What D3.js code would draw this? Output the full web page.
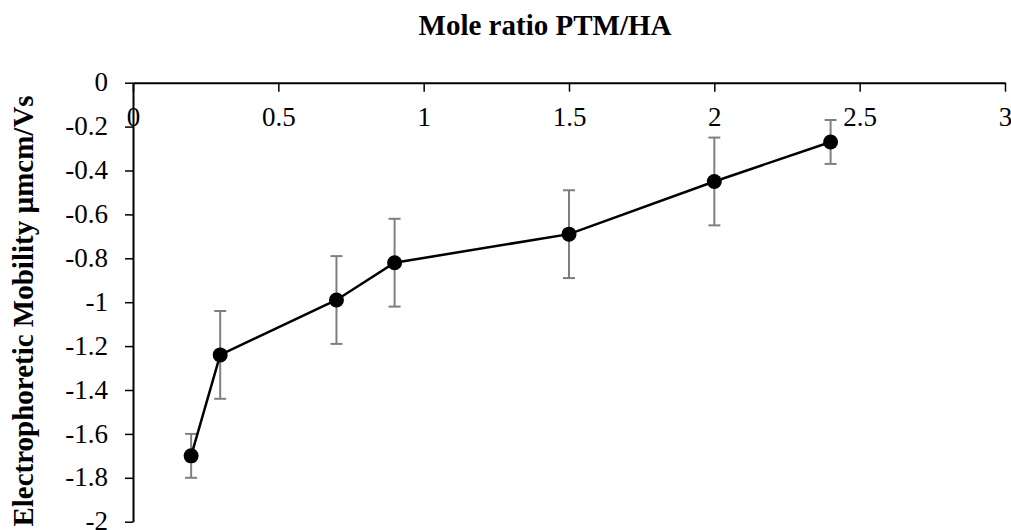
<!DOCTYPE html>
<html>
<head>
<meta charset="utf-8">
<script src="https://cdnjs.cloudflare.com/ajax/libs/d3/7.8.5/d3.min.js"></script>
<style>
  body { margin: 0; background: #fff; }
  #chart { width: 1011px; height: 530px; }
</style>
</head>
<body>
<div id="chart"></div>
<script>
// mole ratio PTM/HA vs electrophoretic mobility
var ratios = [0.2, 0.3, 0.7, 0.9, 1.5, 2.0, 2.4];
var mobility = [-1.70, -1.24, -0.99, -0.82, -0.69, -0.45, -0.27];
var errors = [0.10, 0.20, 0.20, 0.20, 0.20, 0.20, 0.10];
var xTicks = [0, 0.5, 1, 1.5, 2, 2.5, 3];
var yTicks = [0, -0.2, -0.4, -0.6, -0.8, -1, -1.2, -1.4, -1.6, -1.8, -2];

var width = 1011;
var height = 530;
var serif = "'Liberation Serif', 'Times New Roman', serif";

var svg = d3.select("#chart").append("svg")
  .attr("width", width)
  .attr("height", height)
  .attr("font-family", serif);

var x = d3.scaleLinear().domain([0, 3]).range([133, 1005]);
var y = d3.scaleLinear().domain([-2, 0]).range([521.7, 82.7]);

var points = ratios.map(function(r, i) {
  return {x: r, y: mobility[i], e: errors[i]};
});

// top x axis (ticks point down into the plot, labels below)
var xAxis = svg.append("g")
  .attr("transform", "translate(0," + y(0) + ")")
  .call(d3.axisBottom(x).tickValues(xTicks).tickSize(9).tickSizeOuter(0)
    .tickFormat(function(d) { return d; }));
xAxis.attr("font-family", serif);
xAxis.select(".domain").attr("stroke", "#000").attr("stroke-width", 2);
xAxis.selectAll(".tick line").attr("stroke", "#000").attr("stroke-width", 1.5);
xAxis.selectAll(".tick text")
  .attr("y", 0).attr("dy", "1.6em")
  .attr("font-size", 27).attr("fill", "#000");

// left y axis
var yAxis = svg.append("g")
  .attr("transform", "translate(" + x(0) + ",0)")
  .call(d3.axisLeft(y).tickValues(yTicks).tickSize(8).tickSizeOuter(0)
    .tickFormat(function(d) { return d === 0 ? "0" : String(d); }));
yAxis.attr("font-family", serif);
yAxis.select(".domain").attr("stroke", "#000").attr("stroke-width", 2);
yAxis.selectAll(".tick line").attr("stroke", "#000").attr("stroke-width", 1.5);
yAxis.selectAll(".tick text")
  .attr("x", -25).attr("dy", "0.3em")
  .attr("font-size", 27).attr("fill", "#000");

// error bars
var bars = svg.append("g").attr("stroke", "#7f7f7f").attr("stroke-width", 2);
bars.selectAll(".ev")
  .data(points).enter().append("line")
  .attr("x1", function(d) { return x(d.x); })
  .attr("x2", function(d) { return x(d.x); })
  .attr("y1", function(d) { return y(d.y - d.e); })
  .attr("y2", function(d) { return y(d.y + d.e); });
[-1, 1].forEach(function(s) {
  bars.selectAll(".cap" + s)
    .data(points).enter().append("line")
    .attr("x1", function(d) { return x(d.x) - 6; })
    .attr("x2", function(d) { return x(d.x) + 6; })
    .attr("y1", function(d) { return y(d.y + s * d.e); })
    .attr("y2", function(d) { return y(d.y + s * d.e); });
});

// series line + markers
var line = d3.line()
  .x(function(d) { return x(d.x); })
  .y(function(d) { return y(d.y); });

svg.append("path")
  .datum(points)
  .attr("d", line)
  .attr("fill", "none")
  .attr("stroke", "#000")
  .attr("stroke-width", 2.5);

svg.selectAll(".dot")
  .data(points).enter().append("circle")
  .attr("cx", function(d) { return x(d.x); })
  .attr("cy", function(d) { return y(d.y); })
  .attr("r", 7.5)
  .attr("fill", "#000");

// titles
svg.append("text")
  .attr("x", 545).attr("y", 35)
  .attr("text-anchor", "middle")
  .attr("font-size", 29).attr("font-weight", "bold")
  .text("Mole ratio PTM/HA");

svg.append("text")
  .attr("transform", "translate(33,311) rotate(-90)")
  .attr("text-anchor", "middle")
  .attr("font-size", 29).attr("font-weight", "bold")
  .text("Electrophoretic Mobility µmcm/Vs");
</script>
</body>
</html>
